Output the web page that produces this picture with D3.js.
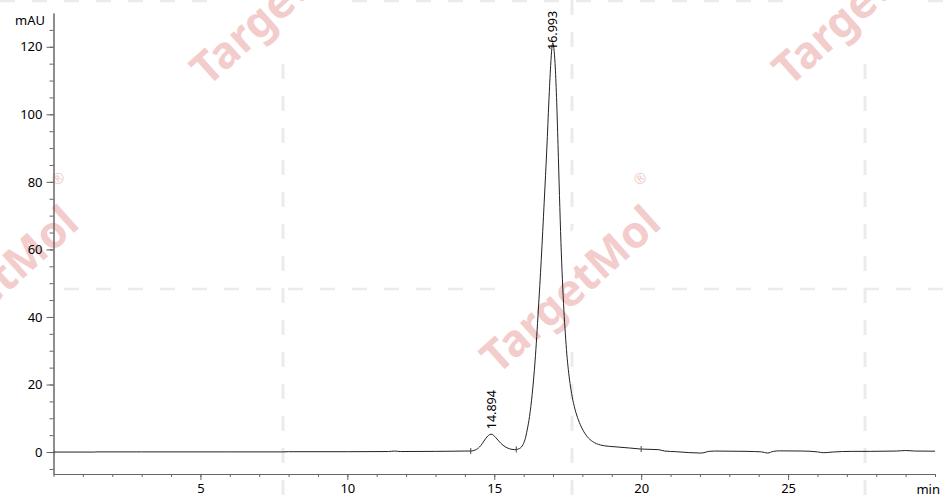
<!DOCTYPE html>
<html>
<head>
<meta charset="utf-8">
<script src="https://cdn.jsdelivr.net/npm/d3@7"></script>
<style>
	body { margin: 0; background: #fff; }
	svg { display: block; font-family: "Noto Sans", sans-serif; }
</style>
</head>
<body>
<svg id="chart"></svg>
<script>
const chartSize = { width: 944, height: 496 };

// chromatogram trace, retention time (min) and signal (mAU)
const retention = [
	0, 1.4, 1.45, 3, 6, 7.8, 8.0, 10, 11.4, 11.6, 11.8, 13.0, 13.6, 14.0,
	14.2, 14.35, 14.5, 14.6, 14.7, 14.8, 14.89, 14.97, 15.05, 15.15, 15.3, 15.45, 15.6, 15.7,
	15.82, 15.95, 16.05, 16.12, 16.2, 16.29, 16.39, 16.5, 16.6, 16.7, 16.79, 16.86, 16.92, 16.96,
	16.993, 17.03, 17.07, 17.12, 17.17, 17.22, 17.27, 17.32, 17.37, 17.42, 17.47, 17.52, 17.58,
	17.65, 17.75, 17.86, 18.0, 18.16, 18.35, 18.61, 18.9, 19.18, 19.6, 19.97,
	20.3, 20.6, 20.8, 21.2, 22.0, 22.1, 22.3, 22.5, 23.6, 24.1, 24.3, 24.5, 24.7, 25.5,
	26.0, 26.2, 26.5, 27.2, 27.8, 28.7, 29.0, 29.3, 30.0
];
const absorbance = [
	0, 0, 0.05, 0.05, 0.05, 0.05, 0.1, 0.1, 0.15, 0.3, 0.15, 0.2, 0.25, 0.3,
	0.3, 0.6, 1.5, 2.6, 3.9, 4.9, 5.3, 5.0, 4.3, 3.3, 2.0, 1.2, 0.8, 0.7,
	0.9, 1.8, 3.8, 6.5, 10.5, 17, 27, 42, 57, 74, 90, 104, 114.5, 119.5,
	121.2, 119.5, 115, 105, 91, 76, 62, 51, 42, 35, 29, 24.5, 20.3,
	16.5, 12.6, 9.6, 6.8, 4.6, 3.1, 2.1, 1.7, 1.5, 1.2, 0.9,
	0.8, 0.7, 0.3, 0.1, -0.3, -0.25, 0.2, 0.3, 0.2, 0.05, -0.3, 0.2, 0.35, 0.3,
	0.05, -0.2, 0.0, 0.2, 0.2, 0.3, 0.45, 0.3, 0.25
];

const peakTimes = [14.894, 16.993];
const peakLabels = ["14.894", "16.993"];
const integrationMarks = [14.2, 15.75, 20.0];

const xMajor = [5, 10, 15, 20, 25];
const xMinor = d3.range(0, 31, 1);
const yMajor = [0, 20, 40, 60, 80, 100, 120];
const yMinor = d3.range(-5, 130, 5);

const x = d3.scaleLinear().domain([0, 30]).range([53.5, 935]);
const y = d3.scaleLinear().domain([-6.5, 130]).range([474, 13]);

const trace = retention.map((t, i) => ({ t, v: absorbance[i] }));
const valueAt = t => {
	const i = d3.bisector(d => d.t).left(trace, t);
	const a = trace[Math.max(i - 1, 0)];
	const b = trace[Math.min(i, trace.length - 1)];
	if (a.t === b.t) return a.v;
	return a.v + ((b.v - a.v) * (t - a.t)) / (b.t - a.t);
};

const svg = d3
	.select("#chart")
	.attr("width", chartSize.width)
	.attr("height", chartSize.height);

// background: dashed grid and watermark tiles
const bg = svg.append("g").attr("class", "background");
const grid = { stroke: "#ebebeb", dash: "15,17" };
[-7, 283, 572, 865].forEach(gx =>
	bg
		.append("line")
		.attr("x1", gx)
		.attr("x2", gx)
		.attr("y1", 0)
		.attr("y2", chartSize.height)
		.attr("stroke", grid.stroke)
		.attr("stroke-width", 3)
		.attr("stroke-dasharray", grid.dash)
);
[1, 289].forEach(gy =>
	bg
		.append("line")
		.attr("x1", 0)
		.attr("x2", chartSize.width)
		.attr("y1", gy)
		.attr("y2", gy)
		.attr("stroke", grid.stroke)
		.attr("stroke-width", 2.5)
		.attr("stroke-dasharray", grid.dash)
);

const marks = [
	[-12, 289],
	[570, 289],
	[280, 1],
	[862, 1]
];
marks.forEach(([cx, cy]) => {
	const w = bg.append("g").attr("transform", `translate(${cx},${cy}) rotate(-42)`);
	w.append("rect")
		.attr("x", -135)
		.attr("y", -42)
		.attr("width", 270)
		.attr("height", 84)
		.attr("fill", "#fff");
	w.append("text")
		.attr("text-anchor", "middle")
		.attr("dy", "0.36em")
		.attr("font-size", 44)
		.attr("font-weight", "bold")
		.attr("fill", "#f3cccc")
		.text("TargetMol");
	w.append("text")
		.attr("x", 120)
		.attr("y", -30)
		.attr("font-size", 15)
		.attr("fill", "#f3cccc")
		.text("®");
});

// axes
const axisColor = "#666";
const styleAxis = g => {
	g.select(".domain").attr("stroke", axisColor);
	g.selectAll(".tick line").attr("stroke", axisColor);
	g.selectAll(".tick text").attr("fill", "#000").attr("font-size", 13);
};

svg.append("g")
	.attr("transform", `translate(${x(0)},0)`)
	.call(d3.axisLeft(y).tickValues(yMinor).tickSize(4).tickSizeOuter(0).tickFormat(""))
	.call(styleAxis);
svg.append("g")
	.attr("transform", `translate(${x(0)},0)`)
	.call(d3.axisLeft(y).tickValues(yMajor).tickSize(7).tickSizeOuter(0).tickPadding(4))
	.call(styleAxis)
	.call(g => g.attr("font-family", null));

svg.append("g")
	.attr("transform", `translate(0,${y.range()[0]})`)
	.call(d3.axisBottom(x).tickValues(xMinor).tickSize(3).tickSizeOuter(0).tickFormat(""))
	.call(styleAxis);
svg.append("g")
	.attr("transform", `translate(0,${y.range()[0]})`)
	.call(d3.axisBottom(x).tickValues(xMajor).tickSize(6).tickSizeOuter(0).tickPadding(4))
	.call(styleAxis)
	.call(g => g.attr("font-family", null));

svg.append("text")
	.attr("x", 45)
	.attr("y", 25)
	.attr("text-anchor", "end")
	.attr("font-size", 13)
	.text("mAU");
svg.append("text")
	.attr("x", 940)
	.attr("y", 494)
	.attr("text-anchor", "end")
	.attr("font-size", 13)
	.text("min");

// trace
const line = d3
	.line()
	.x(d => x(d.t))
	.y(d => y(d.v))
	.curve(d3.curveMonotoneX);

svg.append("path")
	.datum(trace)
	.attr("fill", "none")
	.attr("stroke", "#222")
	.attr("stroke-width", 1)
	.attr("d", line);

svg.selectAll(".mark")
	.data(integrationMarks)
	.enter()
	.append("line")
	.attr("class", "mark")
	.attr("x1", t => x(t))
	.attr("x2", t => x(t))
	.attr("y1", t => y(valueAt(t)) - 3)
	.attr("y2", t => y(valueAt(t)) + 3)
	.attr("stroke", "#444");

svg.selectAll(".peak-label")
	.data(peakTimes)
	.enter()
	.append("text")
	.attr("class", "peak-label")
	.attr("transform", t => `translate(${x(t)},${Math.max(y(valueAt(t)) - 5, 50)}) rotate(-90)`)
	.attr("dy", "0.35em")
	.attr("font-size", 12.5)
	.attr("fill", "#000")
	.text((t, i) => peakLabels[i]);
</script>
</body>
</html>
